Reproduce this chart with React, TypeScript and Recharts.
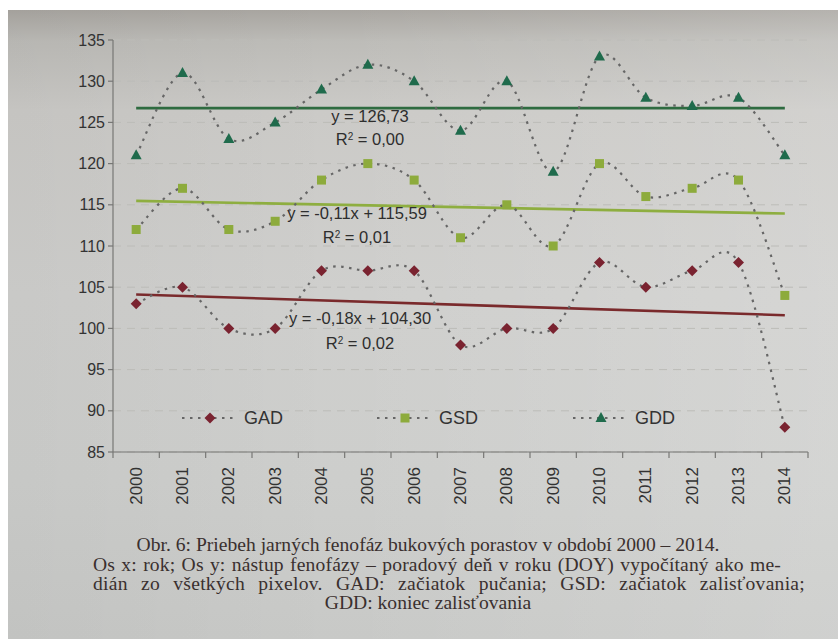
import React from "react";
import { LineChart, Line, XAxis, YAxis, CartesianGrid, ReferenceLine, Legend } from "recharts";

const years = ["2000","2001","2002","2003","2004","2005","2006","2007","2008","2009","2010","2011","2012","2013","2014"];
const gad = [103, 105, 100, 100, 107, 107, 107, 98, 100, 100, 108, 105, 107, 108, 88];
const gsd = [112, 117, 112, 113, 118, 120, 118, 111, 115, 110, 120, 116, 117, 118, 104];
const gdd = [121, 131, 123, 125, 129, 132, 130, 124, 130, 119, 133, 128, 127, 128, 121];
const yTicks = [85, 90, 95, 100, 105, 110, 115, 120, 125, 130, 135];

// trend line end values (from the printed equations, at x = 1 and x = 15)
const gadTrend = [104.12, 101.6];
const gsdTrend = [115.48, 113.94];
const gddTrend = [126.73, 126.73];

const equations = [
  { eq: "y = 126,73", r2: "0,00", x: 370, y: 116, ry: 139 },
  { eq: "y = -0,11x + 115,59", r2: "0,01", x: 357, y: 213, ry: 237 },
  { eq: "y = -0,18x + 104,30", r2: "0,02", x: 360, y: 318, ry: 343 },
];

const data = years.map((year, i) => ({ year, GAD: gad[i], GSD: gsd[i], GDD: gdd[i] }));

const W = 838;
const H = 520;
const M = { top: 40, right: 30, left: 53, bottom: 8 };
const YW = 60;
const XH = 60;
const PLOT_L = M.left + YW;
const PLOT_R = W - M.right;
const PLOT_B = H - M.bottom - XH;
const STEP = (PLOT_R - PLOT_L) / years.length;

const C_GAD = "#7a2330";
const C_GSD = "#8dab3c";
const C_GDD = "#1f6b4c";
const T_GAD = "#7a2a2c";
const T_GSD = "#8eae40";
const T_GDD = "#2e6b40";
const DOTLINE = "#666666";
const AXIS = "#777775";
const TXT = "#333333";

// Catmull-Rom smoothing (like the spreadsheet's "smoothed line")
const smooth: any = (context: any) => {
  let pts: number[][] = [];
  return {
    areaStart() {},
    areaEnd() {},
    lineStart() { pts = []; },
    point(x: number, y: number) { pts.push([+x, +y]); },
    lineEnd() {
      const n = pts.length;
      if (!n) return;
      context.moveTo(pts[0][0], pts[0][1]);
      const t = 1 / 6;
      for (let i = 0; i < n - 1; i++) {
        const p0 = pts[i - 1] || pts[i];
        const p1 = pts[i];
        const p2 = pts[i + 1];
        const p3 = pts[i + 2] || p2;
        context.bezierCurveTo(
          p1[0] + (p2[0] - p0[0]) * t, p1[1] + (p2[1] - p0[1]) * t,
          p2[0] - (p3[0] - p1[0]) * t, p2[1] - (p3[1] - p1[1]) * t,
          p2[0], p2[1]
        );
      }
    },
  };
};

const diamond = (cx: number, cy: number, c: string, k?: any) => (
  <path key={k} d={`M${cx},${cy - 5.5}L${cx + 5.5},${cy}L${cx},${cy + 5.5}L${cx - 5.5},${cy}Z`} fill={c} />
);
const square = (cx: number, cy: number, c: string, k?: any) => (
  <rect key={k} x={cx - 4.5} y={cy - 4.5} width={9} height={9} fill={c} />
);
const triangle = (cx: number, cy: number, c: string, k?: any) => (
  <path key={k} d={`M${cx},${cy - 6}L${cx + 5.5},${cy + 4}L${cx - 5.5},${cy + 4}Z`} fill={c} />
);

const XTick = (props: any) => {
  const { x, payload, index } = props;
  const last = index === years.length - 1;
  return (
    <g>
      <line x1={x - STEP / 2} y1={PLOT_B} x2={x - STEP / 2} y2={PLOT_B + 6} stroke={AXIS} strokeWidth={1.2} />
      {last && <line x1={x + STEP / 2} y1={PLOT_B} x2={x + STEP / 2} y2={PLOT_B + 6} stroke={AXIS} strokeWidth={1.2} />}
      <text
        transform={`translate(${x},${PLOT_B + 15}) rotate(-90)`}
        textAnchor="end"
        dominantBaseline="central"
        fontSize={17}
        fill={TXT}
        fontFamily="'Liberation Sans', Arial, sans-serif"
      >
        {payload.value}
      </text>
    </g>
  );
};

const legendItems = [
  { name: "GAD", color: C_GAD, shape: diamond, x0: 182 },
  { name: "GSD", color: C_GSD, shape: square, x0: 377 },
  { name: "GDD", color: C_GDD, shape: triangle, x0: 573 },
];

const renderLegend = () => (
  <svg width={W} height={40} style={{ position: "absolute", left: 0, top: 398, overflow: "visible" }}>
    {legendItems.map((it) => (
      <g key={it.name}>
        <line x1={it.x0} y1={20} x2={it.x0 + 55} y2={20} stroke={DOTLINE} strokeWidth={2.2} strokeDasharray="2.5 5.5" />
        {it.shape(it.x0 + 28, 20, it.color)}
        <text x={it.x0 + 62} y={20} dominantBaseline="central" fontSize={18} fill={TXT} fontFamily="'Liberation Sans', Arial, sans-serif">
          {it.name}
        </text>
      </g>
    ))}
  </svg>
);

const captionStyle: React.CSSProperties = {
  position: "absolute",
  fontFamily: "'Liberation Serif', 'Times New Roman', serif",
  fontSize: 19.6,
  lineHeight: "19px",
  color: "#3a302f",
  whiteSpace: "nowrap",
};

export default function App() {
  return (
    <div style={{ position: "absolute", left: 0, top: 0, width: W, height: 639, background: "#ffffff", overflow: "hidden" }}>
      <div
        style={{
          position: "absolute",
          left: 8,
          top: 10,
          width: W - 8,
          height: 629,
          background:
            "linear-gradient(to bottom, #a9a6a1 0%, #bdbcb8 5%, #cbcac7 16%, #cfcfcd 45%, #cdcecc 75%, #c8c9c7 100%)",
        }}
      />
      <div
        style={{
          position: "absolute",
          left: 8,
          top: 10,
          width: W - 8,
          height: 629,
          background: "linear-gradient(to right, rgba(0,0,0,0.03) 0%, rgba(255,255,255,0) 40%, rgba(255,255,255,0.14) 100%)",
        }}
      />
      <div style={{ position: "absolute", left: 0, top: 0 }}>
        <LineChart width={W} height={H} data={data} margin={M}>
          <CartesianGrid vertical={false} stroke="#bcbcb8" strokeDasharray="8 6" />
          <XAxis
            dataKey="year"
            height={XH}
            padding={{ left: STEP / 2, right: STEP / 2 }}
            interval={0}
            tickLine={false}
            axisLine={{ stroke: AXIS, strokeWidth: 1.2 }}
            tick={<XTick />}
          />
          <YAxis
            width={YW}
            domain={[85, 135]}
            ticks={yTicks}
            interval={0}
            tickSize={5}
            tickMargin={3}
            axisLine={{ stroke: AXIS, strokeWidth: 1.2 }}
            tickLine={{ stroke: AXIS, strokeWidth: 1.2 }}
            tick={{ fontSize: 16, fill: TXT, fontFamily: "'Liberation Sans', Arial, sans-serif" }}
          />
          <Legend verticalAlign="top" content={renderLegend} wrapperStyle={{ position: "absolute", left: 0, top: 0, width: W, height: 0 }} />
          <ReferenceLine segment={[{ x: years[0], y: gddTrend[0] }, { x: years[years.length - 1], y: gddTrend[1] }]} stroke={T_GDD} strokeWidth={2.6} />
          <ReferenceLine segment={[{ x: years[0], y: gsdTrend[0] }, { x: years[years.length - 1], y: gsdTrend[1] }]} stroke={T_GSD} strokeWidth={2.6} />
          <ReferenceLine segment={[{ x: years[0], y: gadTrend[0] }, { x: years[years.length - 1], y: gadTrend[1] }]} stroke={T_GAD} strokeWidth={2.6} />
          <Line
            dataKey="GAD"
            type={smooth}
            stroke={DOTLINE}
            strokeWidth={2.2}
            strokeDasharray="2.5 5.5"
            isAnimationActive={false}
            activeDot={false}
            dot={(p: any) => diamond(p.cx, p.cy, C_GAD, `gad-${p.index}`)}
          />
          <Line
            dataKey="GSD"
            type={smooth}
            stroke={DOTLINE}
            strokeWidth={2.2}
            strokeDasharray="2.5 5.5"
            isAnimationActive={false}
            activeDot={false}
            dot={(p: any) => square(p.cx, p.cy, C_GSD, `gsd-${p.index}`)}
          />
          <Line
            dataKey="GDD"
            type={smooth}
            stroke={DOTLINE}
            strokeWidth={2.2}
            strokeDasharray="2.5 5.5"
            isAnimationActive={false}
            activeDot={false}
            dot={(p: any) => triangle(p.cx, p.cy, C_GDD, `gdd-${p.index}`)}
          />
        </LineChart>
      </div>
      {equations.map((e) => (
        <React.Fragment key={e.eq}>
          <div style={{ position: "absolute", left: e.x - 100, width: 200, top: e.y - 10, textAlign: "center", fontFamily: "'Liberation Sans', Arial, sans-serif", fontSize: 16.5, lineHeight: "20px", color: "#2e2e2e" }}>
            {e.eq}
          </div>
          <div style={{ position: "absolute", left: e.x - 100, width: 200, top: e.ry - 10, textAlign: "center", fontFamily: "'Liberation Sans', Arial, sans-serif", fontSize: 16.5, lineHeight: "20px", color: "#2e2e2e" }}>
            R<sup style={{ fontSize: 10, verticalAlign: "top", position: "relative", top: -2 }}>2</sup> = {e.r2}
          </div>
        </React.Fragment>
      ))}
      <div style={{ ...captionStyle, left: 128, width: 600, top: 535, textAlign: "center" }}>
        Obr. 6: Priebeh jarných fenofáz bukových porastov v období 2000 – 2014.
      </div>
      <div style={{ ...captionStyle, left: 93, width: 688, top: 555, textAlign: "justify", textAlignLast: "justify", whiteSpace: "normal", letterSpacing: 0.15 }}>
        Os x: rok; Os y: nástup fenofázy – poradový deň v roku (DOY) vypočítaný ako me-
      </div>
      <div style={{ ...captionStyle, left: 93, width: 712, top: 574, textAlign: "justify", textAlignLast: "justify", whiteSpace: "normal", letterSpacing: 0.25 }}>
        dián zo všetkých pixelov. GAD: začiatok pučania; GSD: začiatok zalisťovania;
      </div>
      <div style={{ ...captionStyle, left: 228, width: 400, top: 593, textAlign: "center" }}>
        GDD: koniec zalisťovania
      </div>
    </div>
  );
}
